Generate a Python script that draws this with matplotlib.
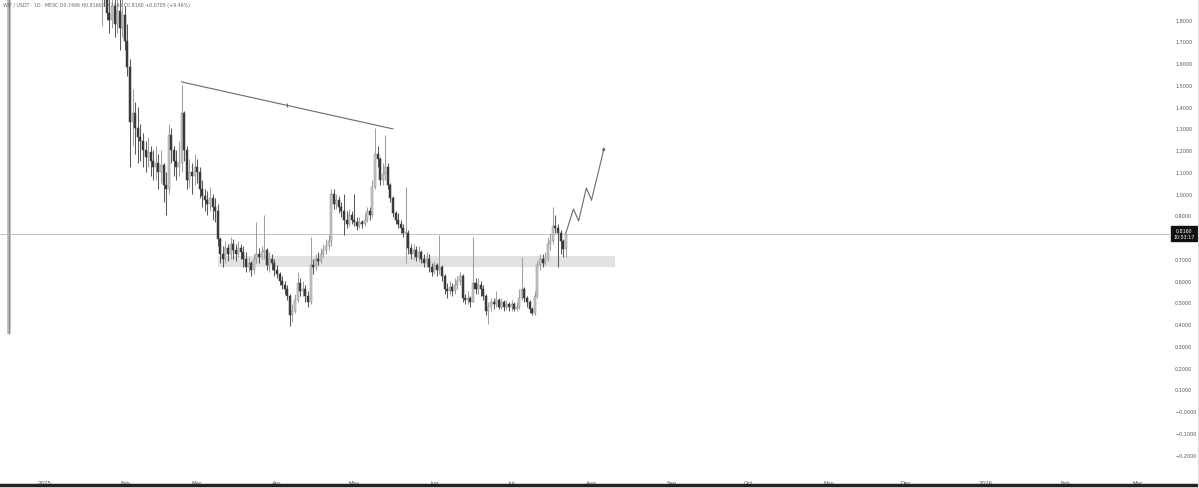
import matplotlib
matplotlib.use("Agg")
import matplotlib.pyplot as plt
import matplotlib.dates as mdates
import matplotlib.transforms as mtransforms
import numpy as np
import pandas as pd

# ---------------- data ----------------
start_date = "2025-01-21"
closes = [2.00,1.96,1.98,1.92,1.83,1.80,1.86,1.78,1.84,1.76,
          1.82,1.70,1.58,1.33,1.37,1.30,1.26,1.24,1.20,1.17,
          1.19,1.15,1.12,1.14,1.10,1.13,1.04,1.02,1.27,1.20,
          1.15,1.12,1.14,1.37,1.20,1.06,1.10,1.08,1.12,1.10,
          1.02,0.99,0.97,0.95,0.98,0.94,0.92,0.79,0.72,0.70,
          0.75,0.72,0.77,0.74,0.72,0.75,0.73,0.70,0.66,0.68,
          0.65,0.70,0.72,0.71,0.73,0.74,0.67,0.70,0.68,0.65,
          0.63,0.60,0.58,0.56,0.53,0.44,0.46,0.51,0.59,0.55,
          0.56,0.53,0.50,0.67,0.66,0.70,0.69,0.72,0.74,0.76,
          0.78,1.00,0.95,0.97,0.94,0.92,0.88,0.86,0.90,0.88,
          0.87,0.85,0.87,0.86,0.88,0.92,0.90,1.03,1.18,1.16,
          1.06,1.09,1.12,1.04,0.98,0.91,0.88,0.86,0.84,0.82,
          0.82,0.75,0.72,0.74,0.71,0.73,0.70,0.68,0.70,0.66,
          0.64,0.67,0.65,0.66,0.62,0.56,0.55,0.57,0.55,0.58,
          0.60,0.62,0.52,0.51,0.52,0.50,0.59,0.56,0.58,0.56,
          0.53,0.46,0.48,0.50,0.49,0.51,0.48,0.50,0.48,0.49,
          0.48,0.49,0.47,0.48,0.52,0.56,0.52,0.50,0.47,0.45,
          0.53,0.67,0.70,0.68,0.70,0.77,0.78,0.85,0.84,0.82,
          0.78,0.7466,0.8160]
highs = [2.08,2.05,2.04,2.02,1.97,1.90,1.93,1.92,1.95,1.90,
         1.93,1.86,1.78,1.62,1.48,1.42,1.40,1.32,1.28,1.24,
         1.26,1.22,1.20,1.22,1.18,1.20,1.14,1.10,1.32,1.30,
         1.22,1.20,1.24,1.50,1.38,1.22,1.16,1.14,1.18,1.16,
         1.12,1.06,1.02,1.01,1.03,1.00,0.98,0.95,0.80,0.76,
         0.78,0.77,0.80,0.79,0.77,0.78,0.77,0.76,0.73,0.71,
         0.69,0.72,0.87,0.75,0.76,0.90,0.75,0.73,0.72,0.70,
         0.67,0.64,0.62,0.60,0.58,0.54,0.49,0.54,0.64,0.61,
         0.60,0.58,0.55,0.80,0.70,0.72,0.73,0.75,0.77,0.79,
         0.81,1.02,1.02,1.00,0.99,0.96,1.00,0.92,0.93,0.92,
         1.00,0.89,0.89,0.88,0.91,0.94,0.94,1.06,1.30,1.22,
         1.17,1.14,1.27,1.14,1.05,0.99,0.92,0.91,0.88,0.86,
         1.03,0.83,0.77,0.77,0.76,0.76,0.74,0.72,0.73,0.72,
         0.68,0.69,0.68,0.81,0.67,0.63,0.59,0.60,0.59,0.61,
         0.62,0.64,0.63,0.54,0.55,0.53,0.80,0.61,0.61,0.60,
         0.58,0.54,0.50,0.52,0.52,0.55,0.52,0.52,0.51,0.51,
         0.50,0.51,0.50,0.50,0.56,0.71,0.57,0.53,0.51,0.48,
         0.55,0.69,0.72,0.72,0.73,0.80,0.82,0.94,0.90,0.86,
         0.83,0.79,0.8160]
lows = [1.92,1.90,1.77,1.86,1.80,1.74,1.76,1.72,1.74,1.66,
        1.72,1.66,1.54,1.12,1.22,1.18,1.14,1.15,1.12,1.10,
        1.12,1.08,1.06,1.06,1.02,1.05,0.96,0.90,1.00,1.14,
        1.08,1.06,1.08,1.10,1.15,1.02,1.03,1.00,1.04,1.05,
        0.98,0.94,0.92,0.90,0.92,0.88,0.87,0.76,0.68,0.66,
        0.68,0.69,0.70,0.70,0.69,0.71,0.70,0.66,0.64,0.64,
        0.62,0.63,0.68,0.68,0.70,0.70,0.65,0.64,0.65,0.62,
        0.61,0.58,0.56,0.54,0.51,0.39,0.41,0.45,0.50,0.53,
        0.53,0.50,0.48,0.49,0.63,0.65,0.67,0.68,0.71,0.72,
        0.74,0.76,0.93,0.93,0.91,0.89,0.81,0.84,0.85,0.86,
        0.85,0.83,0.84,0.84,0.85,0.87,0.88,0.89,1.02,1.12,
        1.04,1.04,1.06,1.02,0.96,0.89,0.86,0.84,0.82,0.80,
        0.68,0.72,0.70,0.70,0.69,0.69,0.68,0.66,0.66,0.64,
        0.62,0.63,0.62,0.63,0.60,0.54,0.52,0.54,0.53,0.54,
        0.56,0.58,0.50,0.49,0.49,0.48,0.50,0.54,0.54,0.53,
        0.51,0.44,0.40,0.46,0.47,0.48,0.47,0.47,0.46,0.47,
        0.46,0.46,0.46,0.46,0.47,0.51,0.50,0.48,0.45,0.44,
        0.44,0.52,0.65,0.66,0.67,0.69,0.74,0.77,0.82,0.66,
        0.72,0.71,0.7100]
first_open = 2.04

# annotations
zone_dates = ["2025-03-09", "2025-08-10"]
zone_prices = [0.662, 0.713]
trend_dates = ["2025-02-23", "2025-05-16"]
trend_prices = [1.513, 1.297]
proj_dates = ["2025-07-22", "2025-07-25", "2025-07-27", "2025-07-30", "2025-08-01", "2025-08-06"]
proj_prices = [0.816, 0.929, 0.874, 1.025, 0.970, 1.214]
left_bar_date = "2024-12-18"
left_bar_prices = [0.354, 2.2]
current_price = 0.8160
ytick_vals = [1.8, 1.7, 1.6, 1.5, 1.4, 1.3, 1.2, 1.1, 1.0, 0.9, 0.7, 0.6, 0.5, 0.4, 0.3, 0.2, 0.1, 0.0, -0.1, -0.2]
month_starts = pd.date_range("2025-01-01", "2026-03-01", freq="MS")
month_labels = ["2025", "Feb", "Mar", "Apr", "May", "Jun", "Jul", "Aug", "Sep", "Oct", "Nov", "Dec", "2026", "Feb", "Mar"]
title_text = "WIF / USDT · 1D · MEXC O0.7466 H0.8160 L0.7466 C0.8160 +0.0705 (+9.46%)"

# ---------------- figure ----------------
W, H = 1199, 489
fig = plt.figure(figsize=(W / 100, H / 100), dpi=100)
fig.patch.set_facecolor("white")
ax = fig.add_axes([0, (H - 478) / H, 1170 / W, 478 / H])
ax.set_facecolor("white")

dates = pd.date_range(start_date, periods=len(closes), freq="D")
x = mdates.date2num(dates)
c = np.array(closes)
h = np.array(highs)
l = np.array(lows)
o = np.array([first_open] + closes[:-1])
up = c >= o

up_col, up_edge = "#c8c8c8", "#8c8c8c"
dn_col = "#3a3a3a"

# wicks
ax.vlines(x[up], l[up], h[up], color="#a0a0a0", lw=0.75, zorder=3)
ax.vlines(x[~up], l[~up], h[~up], color="#5a5a5a", lw=0.75, zorder=3)
# bodies
bw = 0.78
body_lo = np.minimum(o, c)
body_h = np.maximum(np.abs(c - o), 0.004)
ax.bar(x[up], body_h[up], bottom=body_lo[up], width=bw, color=up_col,
       edgecolor=up_edge, linewidth=0.35, zorder=4)
ax.bar(x[~up], body_h[~up], bottom=body_lo[~up], width=bw, color=dn_col,
       edgecolor=dn_col, linewidth=0.35, zorder=4)

# left vertical bar
lb = mdates.date2num(pd.Timestamp(left_bar_date))
ax.vlines([lb], left_bar_prices[0], left_bar_prices[1], color="#b5b5b5", lw=2.6, zorder=2)
ax.vlines([lb], left_bar_prices[0], left_bar_prices[1], color="#707070", lw=0.4, zorder=2)

# zone
zx = mdates.date2num(pd.to_datetime(zone_dates))
ax.fill_between(zx, zone_prices[0], zone_prices[1], color="#e2e2e2", lw=0, zorder=1)

# current price line
ax.axhline(current_price, color="#b8b8b8", lw=0.6, zorder=2)

# trend line
tx = mdates.date2num(pd.to_datetime(trend_dates))
ax.plot(tx, trend_prices, color="#6a6a6a", lw=0.8, zorder=5)
ax.plot([tx.mean()], [np.mean(trend_prices)], marker="|", ms=3, color="#6a6a6a", mew=0.8, zorder=5)

# projection path with arrow
px = mdates.date2num(pd.to_datetime(proj_dates))
ax.plot(px[:-1], proj_prices[:-1], color="#6a6a6a", lw=0.8, zorder=5)
ax.annotate("", xy=(px[-1], proj_prices[-1]), xytext=(px[-2], proj_prices[-2]),
            arrowprops=dict(arrowstyle="-|>", color="#6a6a6a", lw=0.8,
                            mutation_scale=4, shrinkA=0, shrinkB=0), zorder=5)

# limits
x0 = mdates.date2num(pd.Timestamp("2025-01-01"))
ax.set_xlim(x0 - 17.45, x0 + 436.4)
ax.set_ylim(-0.3034, 1.8943)

# ticks
ax.set_xticks(mdates.date2num(month_starts))
ax.set_xticklabels(month_labels)
ax.yaxis.tick_right()
ax.set_yticks(ytick_vals)
ax.set_yticklabels([("\u2212" if v <= 0 else "") + f"{abs(v):.4f}" for v in ytick_vals])
ax.tick_params(axis="both", length=0, labelcolor="#555555")
ax.tick_params(axis="y", pad=3.6, labelsize=3.5)
ax.tick_params(axis="x", pad=2.0, labelsize=4.0)
for s in ax.spines.values():
    s.set_visible(False)

# price box
trans = mtransforms.blended_transform_factory(ax.transAxes, ax.transData)
ax.text(1.0 + 14 / 1170, current_price, "0.8160\n10:53:17", transform=trans,
        ha="center", va="center", fontsize=3.4, color="white", linespacing=1.15,
        bbox=dict(boxstyle="square,pad=0.4", fc="#111111", ec="#111111"),
        clip_on=False, zorder=10)

# title
fig.text(3 / W, 1 - 6 / H, title_text, fontsize=3.4, color="#666666", ha="left", va="center")

# bottom border
fig.add_artist(plt.Line2D([0, 1], [3 / H, 3 / H], transform=fig.transFigure, color="#222222", lw=2.5))
fig.add_artist(plt.Line2D([1 - 1.5 / W, 1 - 1.5 / W], [0, 1], transform=fig.transFigure, color="#dddddd", lw=0.8))

fig.savefig("out.png", dpi=100, facecolor="white")
